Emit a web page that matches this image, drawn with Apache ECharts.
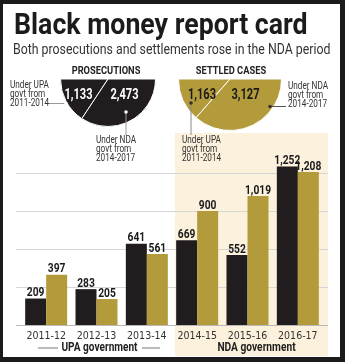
<!DOCTYPE html>
<html>
<head>
<meta charset="utf-8">
<script src="https://cdn.jsdelivr.net/npm/echarts@6/dist/echarts.min.js"></script>
<style>
  html, body { margin: 0; padding: 0; background: #1b1b1b; }
  #chart { width: 345px; height: 362px; }
</style>
</head>
<body>
<div id="chart"></div>
<script>
var years = ['2011-12', '2012-13', '2013-14', '2014-15', '2015-16', '2016-17'];
var prosecutionsByYear = [209, 283, 641, 669, 552, 1252];
var settledByYear = [397, 205, 561, 900, 1019, 1208];
// totals: [UPA 2011-2014, NDA 2014-2017]
var prosecutionsTotal = [1133, 2473];
var settledTotal = [1163, 3127];
var periodNames = ['UPA', 'NDA'];

var BLACK = '#211d1e';
var GOLD = '#b39b3b';
var NARROW = '"Liberation Sans Narrow", "DejaVu Sans Condensed", Roboto, sans-serif';

function fmt(v) { return v.toLocaleString('en-US'); }

function halfPie(vals, center, radius, color) {
  return {
    type: 'pie',
    center: center,
    radius: radius,
    startAngle: 180,
    clockwise: false,
    silent: true,
    animation: false,
    itemStyle: { color: color, borderColor: '#fff', borderWidth: 1 },
    label: { show: false },
    labelLine: { show: false },
    data: [
      { name: periodNames[0], value: vals[0] },
      { name: periodNames[1], value: vals[1] },
      // hidden upper half
      { name: '', value: vals[0] + vals[1], itemStyle: { color: 'rgba(0,0,0,0)', borderWidth: 0 } }
    ]
  };
}

// value labels above bars, drawn through the category/value scales
function valueLabels(values, offset) {
  return {
    type: 'custom', xAxisIndex: 0, yAxisIndex: 0, silent: true, z: 5,
    data: values.map(function (v, i) { return [i, v]; }),
    renderItem: function (params, api) {
      var p = api.coord([api.value(0), api.value(1)]);
      return {
        type: 'text', x: p[0] + offset, y: p[1] + 1, scaleX: 0.82,
        style: {
          text: fmt(api.value(1)), fontFamily: 'Roboto', fontWeight: 'bold', fontSize: 12.5,
          fill: '#1a1a1a', align: 'center', verticalAlign: 'bottom'
        }
      };
    }
  };
}

function txt(x, y, text, size, weight, sx, extra) {
  return {
    type: 'text', x: x, y: y, scaleX: sx, z: 10,
    style: Object.assign({
      text: text, fontFamily: 'Roboto', fontSize: size, fontWeight: weight,
      fill: '#222', align: 'left', verticalAlign: 'middle'
    }, extra || {})
  };
}
function note(x, y, text) {
  return txt(x, y, text, 10.5, 'normal', 0.78, { verticalAlign: 'top', lineHeight: 9, fill: '#333' });
}
function seg(x1, y1, x2, y2, c) {
  return { type: 'line', z: 10, shape: { x1: x1, y1: y1, x2: x2, y2: y2 }, style: { stroke: c, lineWidth: 1 } };
}
function dot(x, y, c) {
  return { type: 'circle', z: 11, shape: { cx: x, cy: y, r: 1.8 }, style: { fill: c } };
}
function pieNum(x, y, v, c) {
  return txt(x, y, fmt(v), 14, 'bold', 0.79, { align: 'center', fill: c });
}

var chart = echarts.init(document.getElementById('chart'));
chart.setOption({
  backgroundColor: '#1b1b1b',
  animation: false,
  grid: [
    { left: 21, right: 22, top: 135, height: 190 },
    { left: 16, right: 17, top: 135, height: 190 }
  ],
  xAxis: [
    {
      type: 'category', gridIndex: 0, data: years,
      axisLine: { show: false }, axisTick: { show: false },
      axisLabel: { interval: 0, margin: 6, fontSize: 10.5, color: '#333', fontFamily: NARROW }
    },
    { type: 'value', gridIndex: 1, min: 0, max: 1, show: false }
  ],
  yAxis: [
    { type: 'value', gridIndex: 0, min: 0, max: 1500, show: false },
    {
      type: 'value', gridIndex: 1, min: 0, max: 1500, interval: 300,
      axisLine: { show: false }, axisTick: { show: false }, axisLabel: { show: false },
      splitLine: {
        show: true, showMaxLine: false,
        lineStyle: { color: ['#b8b8b8', '#d6d6d6', '#d6d6d6', '#d6d6d6', '#d6d6d6'], width: 1 }
      }
    }
  ],
  series: [
    {
      type: 'bar', name: 'Prosecutions', data: prosecutionsByYear,
      barWidth: 21, barGap: '0%', itemStyle: { color: BLACK }
    },
    {
      type: 'bar', name: 'Settled cases', data: settledByYear,
      barWidth: 21, barGap: '0%', itemStyle: { color: GOLD }
    },
    valueLabels(prosecutionsByYear, -10.5),
    valueLabels(settledByYear, 10.5),
    halfPie(prosecutionsTotal, [108, 79], 47.5, BLACK),
    halfPie(settledTotal, [230, 79], 51.5, GOLD)
  ],
  graphic: [
    { type: 'rect', z: -20, shape: { x: 3, y: 4, width: 337, height: 353 }, style: { fill: '#fff' } },
    { type: 'rect', z: -10, shape: { x: 175, y: 133, width: 153, height: 223 }, style: { fill: '#fcf1dd' } },
    txt(14, 26, 'Black money report card', 30, 'bold', 0.89, { fill: '#1b1b1b' }),
    txt(13, 50, 'Both prosecutions and settlements rose in the NDA period', 14.5, 'normal', 0.85, { fill: '#333' }),
    txt(106, 71.5, 'PROSECUTIONS', 10, 'bold', 0.93, { align: 'center' }),
    txt(231, 71.5, 'SETTLED CASES', 10, 'bold', 0.93, { align: 'center' }),

    pieNum(78.5, 95, prosecutionsTotal[0], '#fff'),
    pieNum(124.5, 95, prosecutionsTotal[1], '#fff'),
    pieNum(202, 95.5, settledTotal[0], '#1a1a1a'),
    pieNum(245.5, 95.5, settledTotal[1], '#1a1a1a'),

    note(10, 80.7, 'Under UPA\ngovt from\n2011-2014'),
    seg(49, 103.5, 66, 103.5, '#999'), dot(66, 103.5, '#fff'),
    note(96, 135.7, 'Under NDA\ngovt from\n2014-2017'),
    seg(126, 112, 126, 135, '#999'), dot(126, 112, '#fff'),
    note(288, 82, 'Under NDA\ngovt from\n2014-2017'),
    seg(270, 106.5, 286, 106.5, '#555'), dot(270, 106.5, '#333'),
    note(182, 135.7, 'Under UPA\ngovt from\n2011-2014'),
    seg(191, 103, 191, 135, '#888'), dot(191, 103, '#333'),

    txt(99.5, 348, 'UPA government', 12, 'bold', 0.84, { align: 'center' }),
    seg(38, 348, 58, 348, '#777'), seg(142, 348, 160, 348, '#777'),
    txt(256.5, 348, 'NDA government', 12, 'bold', 0.85, { align: 'center' })
  ]
});
</script>
</body>
</html>
